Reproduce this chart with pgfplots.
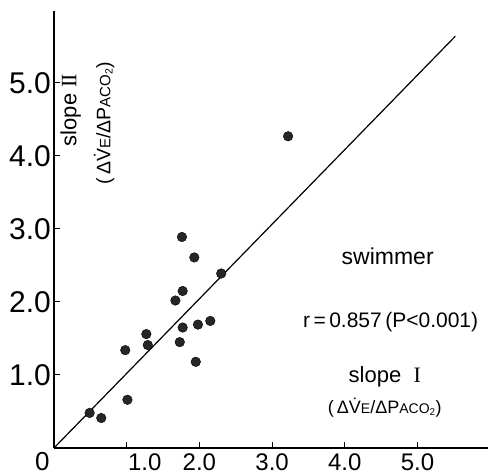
\documentclass[border=0pt]{standalone}
\usepackage{pgfplots}
\pgfplotsset{compat=1.18}
\usepackage{fontspec}
\setmainfont{Liberation Sans}
\newfontfamily\serif{Liberation Serif}
\newcommand{\Vdot}{\.V}
\begin{document}
\begin{tikzpicture}
\begin{axis}[
  x=72.7pt, y=73pt,
  xmin=0, xmax=5.97, ymin=0, ymax=5.99,
  axis lines=left,
  axis line style={-, line width=1.8pt},
  clip=false,
  xtick={1,2,3,4,5}, ytick={1,2,3,4,5},
  xticklabels={{\hspace*{36pt}1.0},2.0,3.0,4.0,5.0},
  yticklabels={1.0,2.0,3.0,4.0,5.0},
  tick align=inside,
  major tick length=6pt,
  tick style={line width=1pt, black},
  xticklabel style={font=\fontsize{24}{24}\selectfont, inner sep=0pt, anchor=north, yshift=-6pt},
  yticklabel style={font=\fontsize{30}{30}\selectfont, inner sep=0pt, anchor=east, xshift=-3pt},
]
\addplot[black, line width=1.2pt] coordinates {(0,0) (5.52,5.64)};
\addplot[only marks, mark=*, mark size=4.8pt, mark options={fill=black!85, draw=black}] coordinates {
(0.49,0.48) (0.65,0.41) (1.01,0.66) (0.98,1.34) (1.27,1.56) (1.29,1.41)
(1.76,2.89) (1.93,2.61) (2.30,2.39) (1.77,2.15) (1.67,2.02) (2.15,1.74)
(1.98,1.69) (1.77,1.65) (1.73,1.45) (1.95,1.18) (3.22,4.27)
};
\node[font=\fontsize{23}{23}\selectfont] at (axis cs:4.59,2.62) {swimmer};
\node[font=\fontsize{21}{21}\selectfont] at (axis cs:4.63,1.73) {r\,=\,0.857\,(P<0.001)};
\node[font=\fontsize{22}{22}\selectfont] at (axis cs:4.55,0.97) {slope\ \ {\serif I}};
\node[font=\fontsize{18}{18}\selectfont] at (axis cs:4.55,0.55) {(\,Δ\Vdot{\fontsize{14}{14}\selectfont E}/ΔP{\fontsize{14}{14}\selectfont ACO\textsubscript{2}})};
\node[rotate=90, font=\fontsize{22}{22}\selectfont] at (axis cs:0.23,4.63) {slope\ {\serif I\kern-0.05em I}};
\node[rotate=90, font=\fontsize{19.5}{19.5}\selectfont] at (axis cs:0.69,4.45) {(\,Δ\Vdot{\fontsize{15}{15}\selectfont E}/ΔP{\fontsize{15}{15}\selectfont ACO\textsubscript{2}})};
\node[font=\fontsize{26}{26}\selectfont] at (axis cs:-0.16,-0.19) {0};
\coordinate (bl) at (axis cs:-0.743,-0.384);
\coordinate (tr) at (axis cs:5.97,6.137);
\end{axis}
\pgfresetboundingbox
\path[use as bounding box] (bl) rectangle (tr);
\end{tikzpicture}
\end{document}
